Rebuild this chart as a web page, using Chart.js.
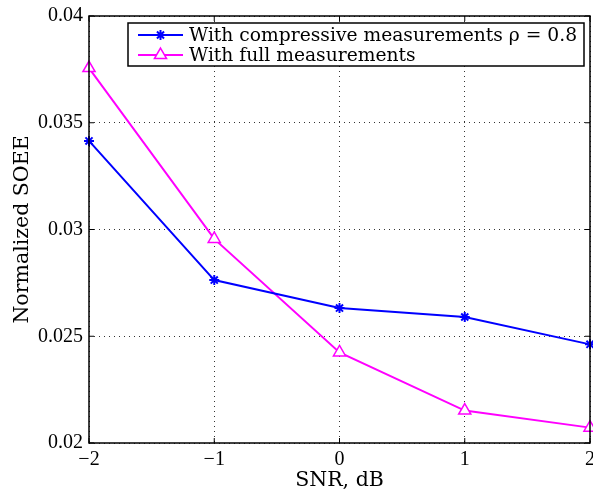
<!DOCTYPE html>
<html>
<head>
<meta charset="utf-8">
<script src="https://cdn.jsdelivr.net/npm/chart.js@4/dist/chart.umd.min.js"></script>
<style>
  html, body { margin: 0; padding: 0; background: #fff; }
  #wrap { width: 593px; height: 493px; }
</style>
</head>
<body>
<div id="wrap"><canvas id="soeeCanvas" width="593" height="493"></canvas></div>
<script>
// SNR values (dB) along x
const snrValues = [-2, -1, 0, 1, 2];
// normalized SOEE
const compressiveSoee = [0.03415, 0.02763, 0.02632, 0.0259, 0.02462];
const fullSoee = [0.03756, 0.02956, 0.02424, 0.02152, 0.02072];
const seriesLabels = ['With compressive measurements \u03c1 = 0.8', 'With full measurements'];
const xTicks = [-2, -1, 0, 1, 2];
const yTicks = [0.02, 0.025, 0.03, 0.035, 0.04];

const serif = "'Liberation Serif', 'DejaVu Serif', serif";
const wideSerif = "'DejaVu Serif', 'Liberation Serif', serif";

function toPoints(ys) {
    return snrValues.map(function (x, i) { return { x: x, y: ys[i] }; });
}

// box around the plot + inward ticks, matlab style
const boxPlugin = {
    id: 'boxPlugin',
    afterDraw: function (chart) {
        const ctx = chart.ctx;
        const a = chart.chartArea;
        const xs = chart.scales.x, ys = chart.scales.y;
        ctx.save();
        ctx.strokeStyle = '#000';
        ctx.lineWidth = 1.5;
        ctx.strokeRect(a.left, a.top, a.right - a.left, a.bottom - a.top);
        ctx.lineWidth = 1;
        xTicks.forEach(function (t) {
            const px = xs.getPixelForValue(t);
            ctx.beginPath();
            ctx.moveTo(px, a.bottom); ctx.lineTo(px, a.bottom - 5);
            ctx.moveTo(px, a.top); ctx.lineTo(px, a.top + 5);
            ctx.stroke();
        });
        yTicks.forEach(function (t) {
            const py = ys.getPixelForValue(t);
            ctx.beginPath();
            ctx.moveTo(a.left, py); ctx.lineTo(a.left + 5, py);
            ctx.moveTo(a.right, py); ctx.lineTo(a.right - 5, py);
            ctx.stroke();
        });
        ctx.restore();
    }
};

// legend drawn inside the axes, top right
const innerLegend = {
    id: 'innerLegend',
    afterDraw: function (chart) {
        const ctx = chart.ctx;
        const a = chart.chartArea;
        const boxL = 128, boxT = a.top + 7, boxR = a.right - 6, boxB = a.top + 50;
        ctx.save();
        ctx.fillStyle = '#fff';
        ctx.fillRect(boxL, boxT, boxR - boxL, boxB - boxT);
        ctx.strokeStyle = '#000';
        ctx.lineWidth = 1.5;
        ctx.strokeRect(boxL, boxT, boxR - boxL, boxB - boxT);
        ctx.font = '18.7px ' + wideSerif;
        ctx.textBaseline = 'middle';
        chart.data.datasets.forEach(function (ds, i) {
            const cy = boxT + 12 + i * 20;
            const x0 = boxL + 10, x1 = boxL + 55;
            ctx.strokeStyle = ds.borderColor;
            ctx.lineWidth = 2;
            ctx.beginPath(); ctx.moveTo(x0, cy); ctx.lineTo(x1, cy); ctx.stroke();
            ctx.fillStyle = ds.pointBackgroundColor;
            ctx.strokeStyle = ds.pointBorderColor;
            ctx.lineWidth = ds.pointBorderWidth;
            Chart.helpers.drawPoint(ctx, {
                pointStyle: ds.pointStyle, radius: ds.pointRadius, borderWidth: ds.pointBorderWidth
            }, (x0 + x1) / 2, cy);
            ctx.fillStyle = '#000';
            ctx.fillText(ds.label, x1 + 6, cy + 1);
        });
        ctx.restore();
    }
};

const ctx = document.getElementById('soeeCanvas').getContext('2d');
const soeeChart = new Chart(ctx, {
    type: 'line',
    data: {
        datasets: [{
            label: seriesLabels[0],
            data: toPoints(compressiveSoee),
            borderColor: '#0000ff',
            backgroundColor: '#0000ff',
            pointBackgroundColor: '#0000ff',
            pointBorderColor: '#0000ff',
            pointStyle: 'star',
            pointRadius: 5,
            pointBorderWidth: 2,
            borderWidth: 2,
            tension: 0
        }, {
            label: seriesLabels[1],
            data: toPoints(fullSoee),
            borderColor: '#ff00ff',
            backgroundColor: '#ffffff',
            pointBackgroundColor: '#ffffff',
            pointBorderColor: '#ff00ff',
            pointStyle: 'triangle',
            pointRadius: 7,
            pointBorderWidth: 1.5,
            borderWidth: 2,
            tension: 0
        }]
    },
    options: {
        responsive: false,
        animation: false,
        clip: false,
        layout: { autoPadding: false, padding: { top: 16, right: 3, left: 10, bottom: 0 } },
        plugins: {
            legend: { display: false },
            tooltip: { enabled: false }
        },
        scales: {
            x: {
                type: 'linear',
                min: -2,
                max: 2,
                afterBuildTicks: function (scale) {
                    scale.ticks = xTicks.map(function (v) { return { value: v }; });
                },
                ticks: {
                    color: '#000',
                    font: { family: serif, size: 20 },
                    padding: 5,
                    maxRotation: 0,
                    callback: function (v) { return v < 0 ? '\u2212' + Math.abs(v) : String(v); }
                },
                grid: { color: '#333', lineWidth: 1, drawTicks: false },
                border: { display: false, dash: [1, 4] },
                title: {
                    display: true,
                    text: 'SNR, dB',
                    color: '#000',
                    font: { family: wideSerif, size: 20.5 },
                    padding: { top: 0, bottom: 0 }
                },
                afterFit: function (scale) {
                    scale.height = 50;
                    scale.paddingLeft = 0;
                    scale.paddingRight = 0;
                }
            },
            y: {
                min: 0.02,
                max: 0.04,
                afterBuildTicks: function (scale) {
                    scale.ticks = yTicks.map(function (v) { return { value: v }; });
                },
                ticks: {
                    color: '#000',
                    font: { family: serif, size: 20 },
                    padding: 6,
                    callback: function (v) { return String(+v.toFixed(3)); }
                },
                grid: { color: '#333', lineWidth: 1, drawTicks: false },
                border: { display: false, dash: [1, 4] },
                title: {
                    display: true,
                    text: 'Normalized SOEE',
                    color: '#000',
                    font: { family: wideSerif, size: 20.5 },
                    padding: { top: 0, bottom: 0 }
                },
                afterFit: function (scale) {
                    scale.width = 79;
                    scale.paddingTop = 0;
                    scale.paddingBottom = 0;
                }
            }
        }
    },
    plugins: [boxPlugin, innerLegend]
});
</script>
</body>
</html>
